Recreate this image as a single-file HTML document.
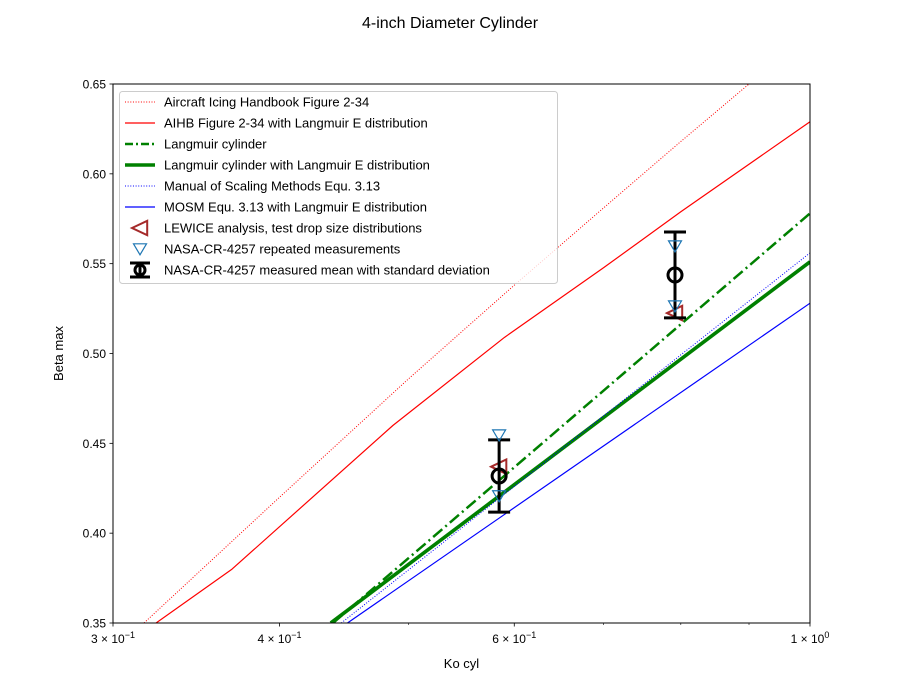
<!DOCTYPE html>
<html><head><meta charset="utf-8"><style>
body{margin:0;background:#fff;}
svg{display:block;font-family:"Liberation Sans","DejaVu Sans",sans-serif;}
</style></head><body>
<svg id="c" width="900" height="700" viewBox="0 0 900 700">
<text x="450" y="28" text-anchor="middle" font-size="16">4-inch Diameter Cylinder</text>
<g id="plot"></g>
</svg>
<script>
const xTickVals=[0.3,0.4,0.6,1.0];
const xTickLabels=[["3","−1"],["4","−1"],["6","−1"],["1","0"]];
const xMinorVals=[0.5,0.7,0.8,0.9];
const yTickVals=[0.35,0.40,0.45,0.50,0.55,0.60,0.65];
const aihbKo=[0.3,0.4,0.5,0.6,0.7,0.8,0.9,1.0];
const aihbBeta=[0.334,0.42,0.486,0.538,0.581,0.618,0.65,0.679];
const aihbEKo=[0.3,0.3685,0.4866,0.59,0.7,0.8,1.0];
const aihbEBeta=[0.333,0.380,0.460,0.509,0.5477,0.5789,0.629];
const langKo=[0.4387,0.5845,0.792,1.0];
const langBeta=[0.35,0.4294,0.5135,0.578];
const langEKo=[0.437,1.0];
const langEBeta=[0.35,0.551];
const mosmKo=[0.445,1.0];
const mosmBeta=[0.35,0.556];
const mosmEKo=[0.4498,1.0];
const mosmEBeta=[0.35,0.528];
const lewiceKo=[0.5845,0.792];
const lewiceBeta=[0.437,0.5225];
const repKo=[0.5845,0.5845,0.792,0.792];
const repBeta=[0.4546,0.4207,0.5598,0.5264];
const meanKo=[0.5845,0.792];
const meanBeta=[0.4318,0.5437];
const meanStd=[0.0201,0.0239];

const L=113,R=810,T=84,B=623;
const xMin=0.3,xMax=1.0,yMin=0.35,yMax=0.65;
const X=v=>L+(Math.log(v/xMin)/Math.log(xMax/xMin))*(R-L);
const Y=v=>B-(v-yMin)/(yMax-yMin)*(B-T);
const NS="http://www.w3.org/2000/svg";
const svg=document.getElementById('c');
const plot=document.getElementById('plot');
function mk(tag,attrs,parent){const e=document.createElementNS(NS,tag);for(const k in attrs)e.setAttribute(k,attrs[k]);(parent||plot).appendChild(e);return e;}

const defs=mk('defs',{},svg);
const cp=mk('clipPath',{id:'clip'},defs);
mk('rect',{x:L,y:T,width:R-L,height:B-T},cp);
const g=mk('g',{'clip-path':'url(#clip)'});



function line(xs,ys,style,name){
  const d=xs.map((v,i)=>(i?'L':'M')+X(v).toFixed(2)+','+Y(ys[i]).toFixed(2)).join('');
  const p=mk('path',Object.assign({d:d,fill:'none','stroke-linejoin':'round'},style),g);
  
  
}
line(aihbKo,aihbBeta,{stroke:'red','stroke-width':1,'stroke-dasharray':'1,1.65'},'aihb-line');
line(aihbEKo,aihbEBeta,{stroke:'red','stroke-width':1.2},'aihb-e-line');
line(langEKo,langEBeta,{stroke:'green','stroke-width':3.6},'langmuir-e-line');
line(mosmKo,mosmBeta,{stroke:'blue','stroke-width':1,'stroke-dasharray':'1,1.65'},'mosm-line');
line(langKo,langBeta,{stroke:'green','stroke-width':2.5,'stroke-dasharray':'12,4,2,4'},'langmuir-line');
line(mosmEKo,mosmEBeta,{stroke:'blue','stroke-width':1.2},'mosm-e-line');

function ltri(cx,cy,parent,name){const s=8;const p=mk('polygon',{points:`${cx-s},${cy} ${cx+s*0.9},${cy-s*0.9} ${cx+s*0.9},${cy+s*0.9}`,fill:'none',stroke:'#a52a2a','stroke-width':2},parent);}
function dtri(cx,cy,parent,name){const s=6.5;const p=mk('polygon',{points:`${cx-s},${cy-s*0.8} ${cx+s},${cy-s*0.8} ${cx},${cy+s*0.9}`,fill:'none',stroke:'#1f77b4','stroke-width':1.2},parent);}
function errbar(cx,cy,top,bot,parent,name){
  const eg=mk('g',{},parent);
  mk('line',{x1:cx,y1:top,x2:cx,y2:bot,stroke:'#000','stroke-width':3},eg);
  mk('line',{x1:cx-11,y1:top,x2:cx+11,y2:top,stroke:'#000','stroke-width':3},eg);
  mk('line',{x1:cx-11,y1:bot,x2:cx+11,y2:bot,stroke:'#000','stroke-width':3},eg);
  mk('circle',{cx:cx,cy:cy,r:7,fill:'none',stroke:'#000','stroke-width':3},eg);
}
lewiceKo.forEach((v,i)=>ltri(X(v),Y(lewiceBeta[i]),g,'lewice-point'));
meanKo.forEach((v,i)=>errbar(X(v),Y(meanBeta[i]),Y(meanBeta[i]+meanStd[i]),Y(meanBeta[i]-meanStd[i]),g,'mean-errorbar'));
repKo.forEach((v,i)=>dtri(X(v),Y(repBeta[i]),g,'repeated-measurement'));

const fr=mk('rect',{x:L,y:T,width:R-L,height:B-T,fill:'none',stroke:'#000','stroke-width':1});


xTickVals.forEach((v,i)=>{
  const x=X(v);
  mk('line',{x1:x,y1:B,x2:x,y2:B+3.5,stroke:'#000','stroke-width':0.8});
  const t=mk('text',{x:x,y:B+20,'text-anchor':'middle','font-size':12});
  
  t.innerHTML=`${xTickLabels[i][0]} × 10<tspan dy="-5" font-size="9">${xTickLabels[i][1]}</tspan>`;
});
xMinorVals.forEach(v=>{const x=X(v);mk('line',{x1:x,y1:B,x2:x,y2:B+2,stroke:'#000','stroke-width':0.6});});
yTickVals.forEach(v=>{
  const y=Y(v);
  mk('line',{x1:L-3.5,y1:y,x2:L,y2:y,stroke:'#000','stroke-width':0.8});
  const t=mk('text',{x:L-7,y:y+4.5,'text-anchor':'end','font-size':12});
  
  t.textContent=v.toFixed(2);
});
const xl=mk('text',{x:(L+R)/2,y:668,'text-anchor':'middle','font-size':13});
xl.textContent='Ko cyl';
const yl=mk('text',{x:0,y:0,'text-anchor':'middle','font-size':13,transform:`translate(63,${(T+B)/2}) rotate(-90)`});
yl.textContent='Beta max';

const lg=mk('g',{});

mk('rect',{x:119.5,y:91.5,width:438,height:192,rx:3,fill:'#fff','fill-opacity':0.8,stroke:'#ccc','stroke-width':1},lg);
const labels=['Aircraft Icing Handbook Figure 2-34','AIHB Figure 2-34 with Langmuir E distribution','Langmuir cylinder','Langmuir cylinder with Langmuir E distribution','Manual of Scaling Methods Equ. 3.13','MOSM Equ. 3.13 with Langmuir E distribution','LEWICE analysis, test drop size distributions','NASA-CR-4257 repeated measurements','NASA-CR-4257 measured mean with standard deviation'];
const styles=[{stroke:'red','stroke-width':1,'stroke-dasharray':'1,1.65'},{stroke:'red','stroke-width':1.2},{stroke:'green','stroke-width':2.5,'stroke-dasharray':'8,3,2,3'},{stroke:'green','stroke-width':3.6},{stroke:'blue','stroke-width':1,'stroke-dasharray':'1,1.65'},{stroke:'blue','stroke-width':1.2}];
labels.forEach((s,i)=>{
  const y=102+i*21;
  const eg=mk('g',{},lg);
  
  if(i<6) mk('line',Object.assign({x1:125,y1:y,x2:155,y2:y},styles[i]),eg);
  else if(i===6) ltri(140,y,eg,'legend-marker');
  else if(i===7) dtri(140,y,eg,'legend-marker');
  else {
    mk('line',{x1:140,y1:y-7,x2:140,y2:y+7,stroke:'#000','stroke-width':3},eg);
    mk('line',{x1:130,y1:y-7,x2:150,y2:y-7,stroke:'#000','stroke-width':3},eg);
    mk('line',{x1:130,y1:y+7,x2:150,y2:y+7,stroke:'#000','stroke-width':3},eg);
    mk('circle',{cx:140,cy:y,r:5,fill:'none',stroke:'#000','stroke-width':3},eg);
  }
  const t=mk('text',{x:164,y:y+4.5,'font-size':13},eg);t.textContent=s;
});
</script>
</body></html>
